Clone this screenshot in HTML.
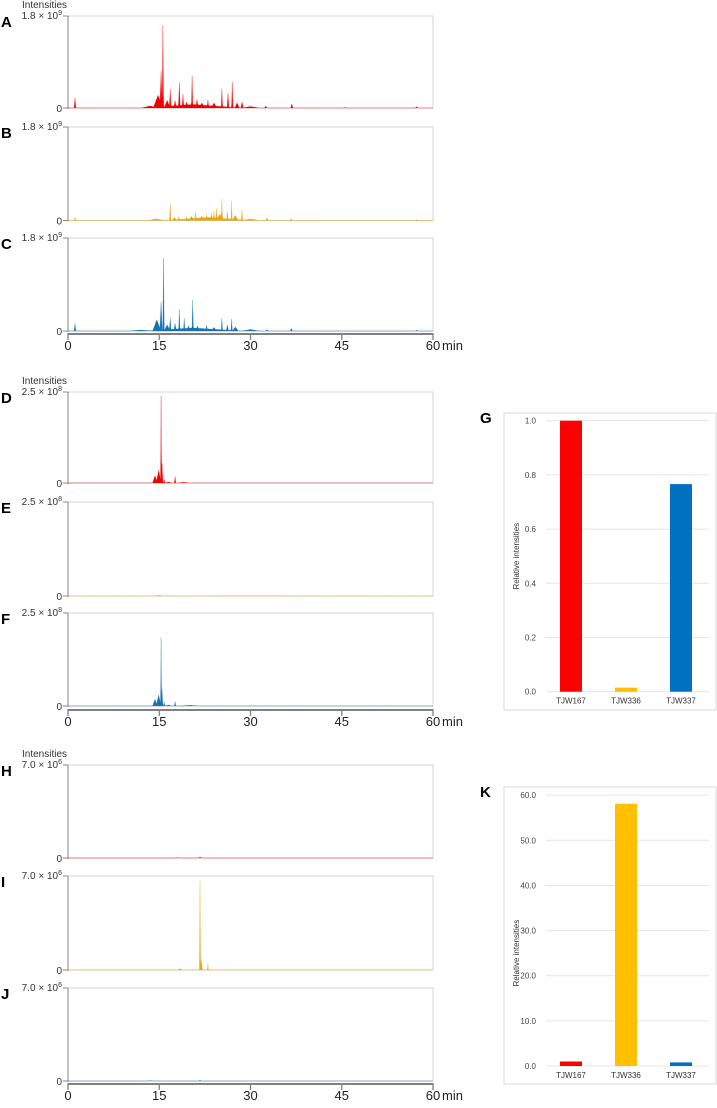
<!DOCTYPE html>
<html><head><meta charset="utf-8">
<style>
html,body{margin:0;padding:0;background:#fff;}
svg{display:block;font-family:"Liberation Sans",Arial,sans-serif;}
</style></head>
<body>
<svg id="fig" width="717" height="1108" viewBox="0 0 717 1108" xmlns="http://www.w3.org/2000/svg"></svg>
<script>
// ---- chromatogram data: [retention time (min), intensity, half-width (min)] ----
const peaksA = [[1.15,0.20,0.15],[13.5,0.04,1.5],[20.5,0.07,8],[14.8,0.25,0.8],[15.3,0.72,0.2],[15.6,1.62,0.12],[16.3,0.15,0.5],[16.8,0.37,0.15],[17.6,0.15,0.2],[18.3,0.50,0.15],[18.9,0.27,0.15],[19.5,0.12,0.3],[20.4,0.63,0.12],[21.2,0.17,0.2],[22.0,0.10,0.5],[23.0,0.16,0.15],[24.0,0.10,0.5],[25.3,0.38,0.12],[26.3,0.29,0.15],[27.0,0.51,0.12],[27.8,0.10,0.4],[28.6,0.12,0.2],[30.0,0.03,1.5],[32.5,0.04,0.2],[36.8,0.08,0.2],[45.5,0.01,0.3],[57.3,0.03,0.2]];
const peaksB = [[1.15,0.06,0.15],[14.5,0.03,1.5],[23.0,0.06,7],[16.8,0.335,0.12],[17.5,0.06,0.4],[18.2,0.07,0.2],[19.5,0.07,0.2],[20.3,0.08,0.5],[21.0,0.17,0.12],[22.0,0.09,0.4],[22.8,0.12,0.15],[23.6,0.15,0.15],[24.0,0.19,0.12],[24.4,0.23,0.12],[25.3,0.41,0.1],[25.0,0.12,0.8],[26.2,0.17,0.15],[26.9,0.37,0.1],[27.5,0.10,0.5],[28.6,0.21,0.12],[30.0,0.03,1.5],[32.7,0.05,0.2],[36.7,0.04,0.2],[40.0,0.01,0.3],[57.3,0.02,0.2]];
const peaksC = [[1.15,0.15,0.15],[12.0,0.02,2.0],[20.5,0.06,8],[14.6,0.22,0.7],[15.3,0.56,0.2],[15.7,1.41,0.12],[16.3,0.12,0.5],[16.8,0.25,0.15],[17.6,0.15,0.2],[18.3,0.42,0.12],[19.1,0.25,0.12],[19.8,0.10,0.3],[20.5,0.60,0.12],[21.3,0.10,0.3],[22.8,0.12,0.15],[24.0,0.07,0.5],[25.3,0.25,0.12],[26.2,0.12,0.2],[26.9,0.23,0.12],[27.5,0.08,0.5],[30.0,0.03,1.5],[32.7,0.03,0.2],[36.7,0.05,0.2],[57.3,0.02,0.2]];
const peaksD = [[14.3,0.20,0.4],[14.9,0.35,0.4],[15.3,2.39,0.08],[15.45,0.55,0.15],[15.8,0.10,0.15],[16.5,0.03,0.5],[17.6,0.18,0.12],[19.0,0.02,1.0]];
const peaksE = [[15.0,0.02,0.6],[30.0,0.005,10]];
const peaksF = [[14.3,0.18,0.4],[14.9,0.30,0.4],[15.3,1.84,0.08],[15.45,0.45,0.15],[15.8,0.10,0.15],[16.5,0.03,0.5],[17.6,0.12,0.12],[20.0,0.02,1.5]];
const peaksH = [[21.7,0.10,0.15],[18.0,0.02,0.5]];
const peaksI = [[18.4,0.10,0.4],[20.5,0.05,0.1],[21.7,6.65,0.1],[21.9,0.8,0.2],[23.0,0.50,0.1]];
const peaksJ = [[13.5,0.03,0.4],[21.7,0.08,0.15]];
// axis labels
const xTicks = [0,15,30,45,60];
// ---- bar chart data ----
const barCats = ["TJW167","TJW336","TJW337"];
const barG = [1.0,0.015,0.766];
const ticksG = [0.0,0.2,0.4,0.6,0.8,1.0];
const barK = [1.0,58.1,0.8];
const ticksK = [0.0,10.0,20.0,30.0,40.0,50.0,60.0];

const NS="http://www.w3.org/2000/svg";
const svg=document.getElementById('fig');
function mk(tag,attrs,parent){const e=document.createElementNS(NS,tag);for(const k in attrs)e.setAttribute(k,attrs[k]);(parent||svg).appendChild(e);return e;}

const X0=68,X1=433;
const xs=t=>X0+(t/60)*(X1-X0);

function chrom(id,letter,peaks,top,zero,ymax,mant,exp,color,showInt){
  const g=mk('g',{});
  
  
  const ys=v=>zero-(v/ymax)*(zero-top);
  const box=mk('rect',{x:X0,y:top,width:X1-X0,height:zero-top,fill:'none',stroke:'#d4d4d4','stroke-width':1},g);
  
  
  const ax=mk('line',{x1:X0,y1:top,x2:X0,y2:zero+1,stroke:'#a0a0a0','stroke-width':1.3},g);
  
  
  mk('line',{x1:X0-5,y1:top,x2:X0,y2:top,stroke:'#888','stroke-width':1},g);
  mk('line',{x1:X0-5,y1:zero,x2:X0,y2:zero,stroke:'#888','stroke-width':1},g);
  let d='M'+xs(0)+','+zero;
  for(let i=0;i<=1200;i++){
    const t=i*0.05;let v=0;
    for(const p of peaks){const r=1-Math.abs(t-p[0])/p[2];if(r>0)v=Math.max(v,p[1]*r);}
    d+=' L'+xs(t).toFixed(2)+','+ys(v).toFixed(2);
  }
  d+=' L'+xs(60)+','+zero+' Z';
  const tr=mk('path',{d:d,fill:color,stroke:color,'stroke-width':0.4,'stroke-opacity':0.6},g);
  
  
  const tl=mk('text',{x:X0-6,y:top+3,'text-anchor':'end','font-size':10,fill:'#333'},g);
  
  
  tl.innerHTML=mant+' × 10<tspan dy="-4" font-size="7">'+exp+'</tspan>';
  const zl=mk('text',{x:X0-6,y:zero+4,'text-anchor':'end','font-size':10,fill:'#333'},g);
  
  
  zl.textContent='0';
  const L=mk('text',{x:1,y:top+11,'font-size':15,'font-weight':'bold',fill:'#000'},g);
  
  
  L.textContent=letter;
  if(showInt){
    const it=mk('text',{x:22,y:top-8,'font-size':10,fill:'#333'},g);
    
    
    it.textContent='Intensities';
  }
}
function xaxis(id,y){
  const g=mk('g',{});
  
  
  mk('line',{x1:X0,y1:y,x2:X1,y2:y,stroke:'#808080','stroke-width':2},g);
  xTicks.forEach(t=>{
    mk('line',{x1:xs(t),y1:y-1,x2:xs(t),y2:y+6,stroke:'#808080','stroke-width':1.3},g);
    const tx=mk('text',{x:xs(t),y:y+16,'text-anchor':'middle','font-size':13,fill:'#222'},g);
    
    
    tx.textContent=String(t);
  });
  const m=mk('text',{x:xs(60)+9,y:y+16,'font-size':13,fill:'#222'},g);
  
  
  m.textContent='min';
}

chrom('a','A',peaksA,16,108,1.8,'1.8','9','#f00000',true);
chrom('b','B',peaksB,127,220.5,1.8,'1.8','9','#e8a610',false);
chrom('c','C',peaksC,238,331,1.8,'1.8','9','#1872b0',false);
xaxis('abc',334);
chrom('d','D',peaksD,392,483,2.5,'2.5','8','#f00000',true);
chrom('e','E',peaksE,502,596,2.5,'2.5','8','#e8a610',false);
chrom('f','F',peaksF,613,706,2.5,'2.5','8','#1872b0',false);
xaxis('def',710);
chrom('h','H',peaksH,765,858,7.0,'7.0','6','#f00000',true);
chrom('i','I',peaksI,876,970,7.0,'7.0','6','#e8a610',false);
chrom('j','J',peaksJ,988,1081,7.0,'7.0','6','#1872b0',false);
xaxis('hij',1084);

const barColors=['#ff0000','#ffc000','#0070c0'];
function bars(id,letter,vals,ticks,boxTop,boxBot,y0,yTopVal,yTopPx){
  const g=mk('g',{});
  
  
  const fr=mk('rect',{x:504,y:boxTop,width:212,height:boxBot-boxTop,fill:'#fff',stroke:'#d9d9d9','stroke-width':1},g);
  
  
  const ys=v=>y0-(v/yTopVal)*(y0-yTopPx);
  ticks.forEach(t=>{
    const gl=mk('line',{x1:546,y1:ys(t),x2:709,y2:ys(t),stroke:'#e4e4e4','stroke-width':1},g);
    
    
    const tl=mk('text',{x:536,y:ys(t)+3,'text-anchor':'end','font-size':8,fill:'#444'},g);
    
    
    tl.textContent=t.toFixed(1);
  });
  const cx=[571,626,681];
  vals.forEach((v,i)=>{
    const h=Math.max(0,y0-ys(v));
    const b=mk('rect',{x:cx[i]-11,y:y0-h,width:22,height:h,fill:barColors[i]},g);
    
    
    const cl=mk('text',{x:cx[i],y:y0+12,'text-anchor':'middle','font-size':8,fill:'#333'},g);
    
    
    cl.textContent=barCats[i];
  });
  const mid=(y0+yTopPx)/2;
  const yt=mk('text',{x:0,y:0,'text-anchor':'middle','font-size':8,fill:'#333',transform:'translate(519,'+mid+') rotate(-90)'},g);
  
  
  yt.textContent='Relative intensities';
  const L=mk('text',{x:480,y:boxTop+10,'font-size':15,'font-weight':'bold',fill:'#000'},g);
  
  
  L.textContent=letter;
}
bars('g','G',barG,ticksG,413,710,691.7,1.0,420.7);
bars('k','K',barK,ticksK,787,1084,1066,50.0,840.3);
</script>
</body></html>
